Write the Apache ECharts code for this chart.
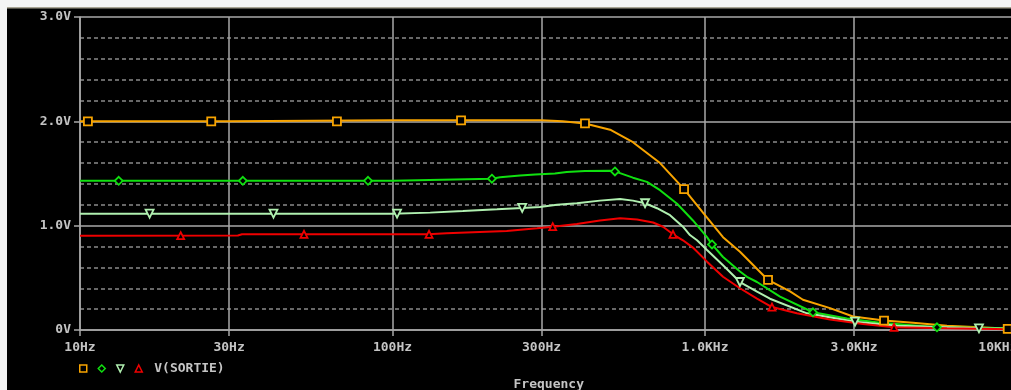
<!DOCTYPE html>
<html>
<head>
<meta charset="utf-8">
<script src="https://cdn.jsdelivr.net/npm/echarts@6/dist/echarts.min.js"></script>
<style>
html,body{margin:0;padding:0;background:#000;}
#c{width:1011px;height:390px;}
</style>
</head>
<body>
<div id="c"></div>
<script>
// Tick values / labels
var xTickValues = [10, 30, 100, 300, 1000, 3000, 10000];
var xTickLabels = ['10Hz', '30Hz', '100Hz', '300Hz', '1.0KHz', '3.0KHz', '10KHz'];
var yTickLabels = {0: '0V', 1: '1.0V', 2: '2.0V', 3: '3.0V'};

// Traces [frequency Hz, volts]
var traceOrange = [[10,2.0],[30,2.0],[100,2.01],[200,2.01],[300,2.01],[350,2.0],[413,1.98],[497,1.92],[588,1.80],[718,1.60],[857,1.35],[1000,1.10],[1142,0.89],[1294,0.75],[1591,0.48],[1871,0.37],[2058,0.29],[2512,0.21],[2976,0.13],[3740,0.09],[4631,0.07],[5950,0.04],[10000,0.01]];
var traceGreen = [[10,1.43],[100,1.43],[120,1.435],[173,1.445],[208,1.45],[221,1.465],[256,1.48],[286,1.49],[331,1.50],[361,1.515],[413,1.524],[497,1.527],[515,1.52],[588,1.46],[652,1.42],[718,1.34],[814,1.21],[915,1.05],[1015,0.89],[1053,0.82],[1142,0.70],[1294,0.56],[1362,0.51],[1467,0.46],[1738,0.32],[2216,0.17],[2848,0.11],[3631,0.07],[5526,0.026],[10000,0.015]];
var tracePale = [[10,1.115],[100,1.115],[132,1.125],[168,1.14],[216,1.157],[260,1.17],[296,1.18],[336,1.20],[389,1.215],[461,1.24],[535,1.255],[588,1.24],[643,1.215],[702,1.167],[773,1.10],[850,0.99],[895,0.91],[943,0.86],[1015,0.767],[1142,0.62],[1294,0.46],[1467,0.367],[1614,0.30],[2120,0.16],[3020,0.08],[4116,0.04],[7530,0.016],[10000,0.012]];
var traceRed = [[10,0.904],[32,0.905],[33,0.917],[130,0.917],[149,0.927],[190,0.94],[232,0.95],[290,0.975],[326,0.99],[389,1.016],[461,1.05],[535,1.07],[606,1.06],[682,1.03],[734,0.99],[790,0.917],[850,0.86],[915,0.79],[1015,0.655],[1142,0.51],[1294,0.40],[1467,0.30],[1638,0.22],[1968,0.16],[2512,0.10],[3203,0.058],[4026,0.026],[5950,0.016],[10000,0.007]];

// Marker positions on each trace
var markOrange = [[10.6,2.0],[26.3,2.0],[66.4,2.0],[165.7,2.01],[413,1.98],[857,1.35],[1591,0.48],[3740,0.09],[9305,0.01]];
var markGreen = [[13.3,1.43],[33.2,1.43],[83.5,1.43],[208,1.45],[515,1.52],[1053,0.82],[2216,0.17],[5526,0.026]];
var markPale = [[16.7,1.115],[41.6,1.115],[103.4,1.115],[260,1.17],[643,1.215],[1294,0.46],[3020,0.08],[7530,0.016]];
var markRed = [[21,0.904],[52.1,0.917],[130.9,0.917],[325.6,0.99],[790,0.917],[1638,0.22],[4026,0.026]];

var legendLabel = 'V(SORTIE)';

var C_OR = '#f8a400', C_GR = '#10e010', C_PA = '#b0f0b0', C_RD = '#f00000';
var TXT = '#c4c4c4', GRID = '#a8a8a8', DASH = '#8a8a8a';
var FONT = 'DejaVu Sans Mono';

function lineSeries(name, data, color) {
  return {name: name, type: 'line', data: data, showSymbol: false, symbol: 'none',
    lineStyle: {color: color, width: 2}, itemStyle: {color: color}, silent: true, z: 3, animation: false};
}
function markSeries(name, data, color, symbol, rot, size) {
  return {name: name, type: 'scatter', data: data, symbol: symbol, symbolSize: size || 8, symbolRotate: rot || 0,
    itemStyle: {color: '#000', borderColor: color, borderWidth: 1.8, opacity: 1}, z: 4, silent: true, animation: false};
}

var chart = echarts.init(document.getElementById('c'), null, {renderer: 'canvas'});
chart.setOption({
  backgroundColor: '#000',
  animation: false,
  grid: {left: 80, top: 17, bottom: 60, right: -6.5, containLabel: false, outerBoundsMode: 'none'},
  graphic: [
    {type: 'rect', shape: {x: 0, y: 0, width: 1011, height: 7}, style: {fill: '#f4f4f4'}, z: 100},
    {type: 'rect', shape: {x: 0, y: 7, width: 1011, height: 1.5}, style: {fill: '#a8a494'}, z: 100},
    {type: 'rect', shape: {x: 0, y: 0, width: 7, height: 390}, style: {fill: '#f4f4f4'}, z: 101}
  ],
  legend: {
    left: 79, top: 362, itemWidth: 7, itemHeight: 7, itemGap: 10, padding: 0,
    selectedMode: false,
    data: [
      {name: 'mO', icon: 'rect', itemStyle: {color: '#000', borderColor: C_OR, borderWidth: 1.5}},
      {name: 'mG', icon: 'diamond', itemStyle: {color: '#000', borderColor: C_GR, borderWidth: 1.5}},
      {name: 'mP', icon: 'path://M0,0L10,0L5,10Z', itemStyle: {color: '#000', borderColor: C_PA, borderWidth: 1.5}},
      {name: legendLabel, icon: 'triangle', itemStyle: {color: '#000', borderColor: C_RD, borderWidth: 1.5}}
    ],
    formatter: function (n) { return n === legendLabel ? n : ''; },
    textStyle: {color: TXT, fontFamily: FONT, fontSize: 13, fontWeight: 'bold', padding: [0, 0, 0, 7]}
  },
  xAxis: {
    type: 'log', logBase: 10, min: 10, max: 10000,
    name: 'Frequency', nameLocation: 'middle', nameGap: 48,
    nameTextStyle: {color: TXT, fontFamily: FONT, fontSize: 13, fontWeight: 'bold'},
    axisLine: {show: true, lineStyle: {color: GRID, width: 1.5}},
    axisTick: {show: true, length: 6, customValues: xTickValues, lineStyle: {color: GRID, width: 1.5}},
    axisLabel: {
      customValues: xTickValues, margin: 11, color: TXT, fontFamily: FONT, fontSize: 13, fontWeight: 'bold',
      alignMaxLabel: 'right',
      formatter: function (v) {
        for (var i = 0; i < xTickValues.length; i++) if (Math.abs(v - xTickValues[i]) / xTickValues[i] < 1e-6) return xTickLabels[i];
        return '';
      }
    },
    splitLine: {show: true, lineStyle: {color: GRID, width: 1.5}},
    minorTick: {show: false}, minorSplitLine: {show: false}
  },
  yAxis: {
    type: 'value', min: 0, max: 3, interval: 1,
    axisLine: {show: true, lineStyle: {color: GRID, width: 1.5}},
    axisTick: {show: true, length: 6, lineStyle: {color: GRID, width: 1.5}},
    axisLabel: {margin: 9, color: TXT, fontFamily: FONT, fontSize: 13, fontWeight: 'bold',
      formatter: function (v) { return yTickLabels[Math.round(v)]; }},
    splitLine: {show: true, lineStyle: {color: GRID, width: 1.5}},
    minorTick: {show: false, splitNumber: 5},
    minorSplitLine: {show: true, lineStyle: {color: DASH, width: 1.5, type: [4, 3]}}
  },
  series: [
    lineSeries('lO', traceOrange, C_OR),
    lineSeries('lG', traceGreen, C_GR),
    lineSeries('lP', tracePale, C_PA),
    lineSeries('lR', traceRed, C_RD),
    markSeries('mO', markOrange, C_OR, 'rect', 0, 8),
    markSeries('mG', markGreen, C_GR, 'diamond', 0, 8),
    markSeries('mP', markPale, C_PA, 'triangle', 180, 8),
    markSeries(legendLabel, markRed, C_RD, 'triangle', 0, 7)
  ]
});
</script>
</body>
</html>
